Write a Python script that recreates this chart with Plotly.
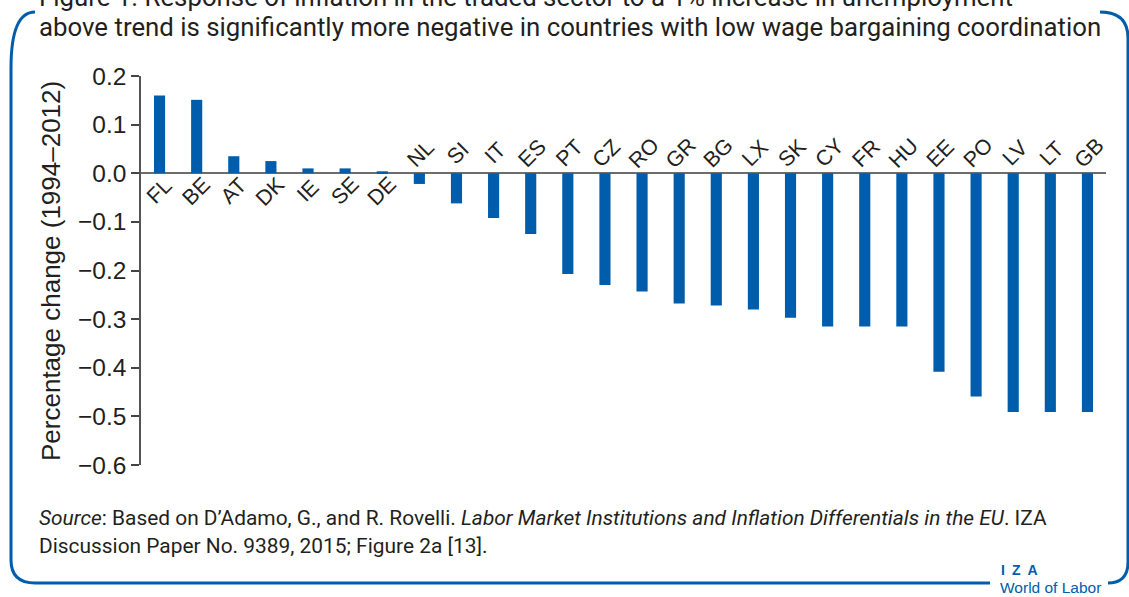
import plotly.graph_objects as go

countries = ["FL", "BE", "AT", "DK", "IE", "SE", "DE", "NL", "SI", "IT", "ES", "PT", "CZ",
             "RO", "GR", "BG", "LX", "SK", "CY", "FR", "HU", "EE", "PO", "LV", "LT", "GB"]
values = [0.160, 0.151, 0.035, 0.025, 0.010, 0.010, 0.004, -0.022, -0.062, -0.092, -0.125,
          -0.207, -0.230, -0.243, -0.268, -0.272, -0.280, -0.297, -0.315, -0.315, -0.315,
          -0.408, -0.459, -0.491, -0.491, -0.491]
y_ticks = [0.2, 0.1, 0.0, -0.1, -0.2, -0.3, -0.4, -0.5, -0.6]
y_ticklabels = ["0.2", "0.1", "0.0", "\u22120.1", "\u22120.2", "\u22120.3", "\u22120.4", "\u22120.5", "\u22120.6"]

W, H = 1129, 597
L, R, T, B = 141, 1106, 76, 465
BLUE = "#005dab"
TXT = "#231f20"


def px(x):
    return (x - L) / (R - L)


def py(y):
    return (B - y) / (B - T)


xs = list(range(len(countries)))
fig = go.Figure(go.Bar(x=xs, y=values, marker_color=BLUE, width=0.3, marker_line_width=0,
                       hoverinfo="skip"))

annotations = []
for i, (c, v) in enumerate(zip(countries, values)):
    annotations.append(dict(x=i, y=0, xref="x", yref="y", text=c, showarrow=False,
                            textangle=-45, yshift=(-18 if v > 0 else 20), xshift=(0 if v > 0 else 2),
                            font=dict(family="Liberation Sans", size=21.5, color=TXT)))

annotations.append(dict(x=px(51), y=py(271), xref="paper", yref="paper", xanchor="center", yanchor="middle",
                        text="Percentage change (1994\u20132012)", showarrow=False, textangle=-90,
                        font=dict(family="Liberation Sans", size=26, color=TXT)))

annotations.append(dict(x=px(37), y=py(-3), xref="paper", yref="paper", xanchor="left", yanchor="middle",
                        text="Figure 1. Response of inflation in the traded sector to a 1% increase in unemployment",
                        showarrow=False, font=dict(family="Roboto", size=25.8, color=TXT)))
annotations.append(dict(x=px(37), y=py(27), xref="paper", yref="paper", xanchor="left", yanchor="middle",
                        text="above trend is significantly more negative in countries with low wage bargaining coordination",
                        showarrow=False, font=dict(family="Roboto", size=25.8, color=TXT)))

annotations.append(dict(x=px(37), y=py(518), xref="paper", yref="paper", xanchor="left", yanchor="middle",
                        text="<i>Source</i>: Based on D\u2019Adamo, G., and R. Rovelli. <i>Labor Market Institutions and Inflation Differentials in the EU</i>. IZA",
                        showarrow=False, font=dict(family="Roboto", size=20.9, color=TXT)))
annotations.append(dict(x=px(37), y=py(546), xref="paper", yref="paper", xanchor="left", yanchor="middle",
                        text="Discussion Paper No. 9389, 2015; Figure 2a [13].",
                        showarrow=False, font=dict(family="Roboto", size=20.9, color=TXT)))

annotations.append(dict(x=px(999), y=py(570), xref="paper", yref="paper", xanchor="left", yanchor="middle",
                        text="<b>I\u2002Z\u2002A</b>", showarrow=False,
                        font=dict(family="Liberation Sans", size=14, color=BLUE)))
annotations.append(dict(x=px(998), y=py(587), xref="paper", yref="paper", xanchor="left", yanchor="middle",
                        text="World of Labor", showarrow=False,
                        font=dict(family="Liberation Sans", size=15.5, color=BLUE)))

left_path = (f"M {px(11)},{py(68)} Q {px(11)},{py(12)} {px(35)},{py(12)} "
             f"M {px(11)},{py(68)} L {px(11)},{py(560)} Q {px(11)},{py(583)} {px(35)},{py(583)} "
             f"L {px(990)},{py(583)}")
right_path = (f"M {px(1100)},{py(12)} Q {px(1128)},{py(12)} {px(1128)},{py(38)} "
              f"L {px(1128)},{py(562)} Q {px(1128)},{py(583)} {px(1108)},{py(583)}")

shapes = [
    dict(type="path", xref="paper", yref="paper", path=left_path, line=dict(color=BLUE, width=3)),
    dict(type="path", xref="paper", yref="paper", path=right_path, line=dict(color=BLUE, width=3)),
]

fig.update_layout(
    width=W, height=H,
    margin=dict(l=L, r=W - R, t=T, b=H - B, pad=0),
    paper_bgcolor="white", plot_bgcolor="white",
    showlegend=False,
    annotations=annotations,
    shapes=shapes,
    xaxis=dict(range=[-0.5, 25.5], showticklabels=False, showgrid=False, zeroline=False,
               showline=False, ticks=""),
    yaxis=dict(range=[-0.6, 0.2], tickvals=y_ticks, ticktext=y_ticklabels, showgrid=False,
               zeroline=True, zerolinecolor="#6d6d6d", zerolinewidth=2,
               showline=True, linecolor="#555555", linewidth=1.5,
               ticks="outside", ticklen=8, tickcolor="#444444", tickwidth=1.5,
               tickfont=dict(family="Liberation Sans", size=24.5, color=TXT)),
)

fig.write_html("out.html", config={"displayModeBar": False},
               post_script="document.body.style.margin='0px';")
